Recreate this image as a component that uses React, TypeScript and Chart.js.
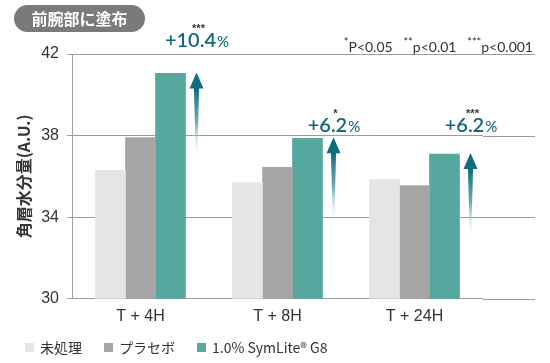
import React, { useEffect, useRef } from 'react';
import { Chart, registerables } from 'chart.js';

Chart.register(...registerables);

// ---- data ----
const categories = ['T + 4H', 'T + 8H', 'T + 24H'];
const seriesNames = ['未処理', 'プラセボ', '1.0% SymLite® G8'];
const untreated = [36.3, 35.7, 35.85];
const placebo = [37.9, 36.45, 35.55];
const symlite = [41.05, 37.87, 37.1];
const changeLabels = ['+10.4', '+6.2', '+6.2'];
const sigMarks = ['***', '*', '***'];
const yTicks = [30, 34, 38, 42];
const seriesColors = ['#e5e5e7', '#a6a6a6', '#56a89f'];

const ARROW_COLOR = '#0f6d7d';
const LABEL_COLOR = '#15687a';
const GRID_COLOR = '#9d9d9d';
const LATIN = '"Liberation Sans", Arial, sans-serif';
const GEO = 'Lato, "Open Sans", sans-serif';
const JP = '"Noto Sans CJK JP", "Noto Sans", sans-serif';

// label baseline level in axis units (group 1 sits above the plot)
const LABEL_LEVELS = [42.33, 38.16, 38.16];

const gridExtend = {
  id: 'gridExtend',
  beforeDatasetsDraw(chart: any) {
    const { ctx, chartArea, scales } = chart;
    ctx.save();
    ctx.strokeStyle = GRID_COLOR;
    ctx.lineWidth = 1;
    yTicks.forEach((v) => {
      const py = Math.round(scales.y.getPixelForValue(v)) + 0.5;
      ctx.beginPath();
      ctx.moveTo(chartArea.right, py);
      ctx.lineTo(chartArea.right + 52, py);
      ctx.stroke();
    });
    ctx.restore();
  },
};

const annotations = {
  id: 'annotations',
  afterDatasetsDraw(chart: any) {
    const { ctx, scales } = chart;
    const meta = chart.getDatasetMeta(2);
    meta.data.forEach((bar: any, i: number) => {
      const p = bar.getProps(['x', 'y', 'width'], true);
      const ax = p.x + p.width / 2 + 11;
      const top = p.y;
      const len = 88;
      const headH = 15;
      ctx.save();
      const g = ctx.createLinearGradient(0, top + headH, 0, top + len);
      g.addColorStop(0, 'rgba(15,109,125,1)');
      g.addColorStop(0.45, 'rgba(60,140,155,0.75)');
      g.addColorStop(1, 'rgba(255,255,255,0)');
      ctx.fillStyle = g;
      ctx.beginPath();
      ctx.moveTo(ax - 2.6, top + headH - 1);
      ctx.lineTo(ax + 2.6, top + headH - 1);
      ctx.lineTo(ax + 0.6, top + len);
      ctx.lineTo(ax - 0.6, top + len);
      ctx.closePath();
      ctx.fill();
      ctx.fillStyle = ARROW_COLOR;
      ctx.beginPath();
      ctx.moveTo(ax, top - 1);
      ctx.lineTo(ax + 7, top + headH);
      ctx.lineTo(ax - 7, top + headH);
      ctx.closePath();
      ctx.fill();

      // change label
      const base = scales.y.getPixelForValue(LABEL_LEVELS[i]);
      ctx.fillStyle = LABEL_COLOR;
      ctx.textBaseline = 'alphabetic';
      ctx.textAlign = 'left';
      const f1 = `600 20px ${GEO}`;
      const f2 = `500 15px ${GEO}`;
      ctx.font = f1;
      const w1 = ctx.measureText(changeLabels[i]).width;
      ctx.font = f2;
      const w2 = ctx.measureText('%').width;
      const sx = ax - (w1 + w2) / 2;
      ctx.font = f1;
      ctx.fillText(changeLabels[i], sx, base);
      ctx.font = f2;
      ctx.fillText('%', sx + w1 + 1, base);

      // significance
      ctx.fillStyle = '#333';
      ctx.textAlign = 'center';
      ctx.font = `bold 11px ${LATIN}`;
      ctx.fillText(sigMarks[i], ax + 2, base - 15);
      ctx.restore();
    });
  },
};

export default function App() {
  const ref = useRef<HTMLCanvasElement>(null);

  useEffect(() => {
    const values = [untreated, placebo, symlite];
    const chart = new Chart(ref.current as HTMLCanvasElement, {
      type: 'bar',
      data: {
        labels: categories,
        datasets: seriesNames.map((name, k) => ({
          label: name,
          data: values[k],
          backgroundColor: seriesColors[k],
          borderWidth: 0,
          barThickness: 30,
        })),
      },
      options: {
        responsive: false,
        animation: false,
        devicePixelRatio: 1,
        layout: { padding: { top: 54, right: 67, bottom: 29, left: 0 } },
        plugins: {
          legend: { display: false },
          tooltip: { enabled: false },
        },
        scales: {
          x: {
            grid: { display: false, drawTicks: false },
            border: { display: false },
            ticks: { color: '#333', font: { size: 16, family: LATIN }, padding: 8 },
          },
          y: {
            min: 30,
            max: 42,
            afterBuildTicks: (s: any) => {
              s.ticks = yTicks.map((v) => ({ value: v }));
            },
            afterFit: (s: any) => {
              s.width = 72;
            },
            grid: { color: GRID_COLOR, tickLength: 5, drawTicks: true },
            border: { display: true, color: GRID_COLOR },
            ticks: { color: '#333', font: { size: 16, family: LATIN }, padding: 8 },
            title: {
              display: true,
              text: '角層水分量(A.U.)',
              color: '#333',
              font: { size: 16, weight: 'bold', family: JP },
              padding: { top: 14, bottom: 0 },
            },
          },
        },
      },
      plugins: [gridExtend, annotations],
    } as any);
    return () => chart.destroy();
  }, []);

  return (
    <div
      style={{
        position: 'fixed',
        left: 0,
        top: 0,
        width: 550,
        height: 363,
        background: '#fff',
        overflow: 'hidden',
      }}
    >
      <canvas
        ref={ref}
        width={550}
        height={363}
        style={{ position: 'absolute', left: 0, top: 0, width: 550, height: 363 }}
      />
      <div
        style={{
          position: 'absolute',
          left: 14,
          top: 5,
          width: 131,
          height: 27,
          borderRadius: 14,
          background: '#7a7a7a',
          color: '#fff',
          fontFamily: JP,
          fontWeight: 700,
          fontSize: 16,
          lineHeight: '27px',
          textAlign: 'center',
        }}
      >
        前腕部に塗布
      </div>
      <div
        style={{
          position: 'absolute',
          right: 17,
          top: 33,
          fontFamily: GEO,
          fontSize: 14,
          color: '#333',
          whiteSpace: 'pre',
          lineHeight: '17px',
        }}
      >
        <sup style={{ fontSize: 11 }}>*</sup>P&lt;0.05{'   '}
        <sup style={{ fontSize: 11 }}>**</sup>p&lt;0.01{'   '}
        <sup style={{ fontSize: 11 }}>***</sup>p&lt;0.001
      </div>
      <div
        style={{
          position: 'absolute',
          left: 25,
          top: 338,
          display: 'flex',
          alignItems: 'center',
          fontFamily: JP,
          fontSize: 14,
          color: '#333',
          lineHeight: '18px',
        }}
      >
        {seriesNames.map((n, k) => (
          <div key={n} style={{ display: 'flex', alignItems: 'center', marginRight: 22 }}>
            <span
              style={{
                display: 'inline-block',
                width: 9,
                height: 9,
                background: seriesColors[k],
                marginRight: 6,
              }}
            />
            <span>{n}</span>
          </div>
        ))}
      </div>
    </div>
  );
}
